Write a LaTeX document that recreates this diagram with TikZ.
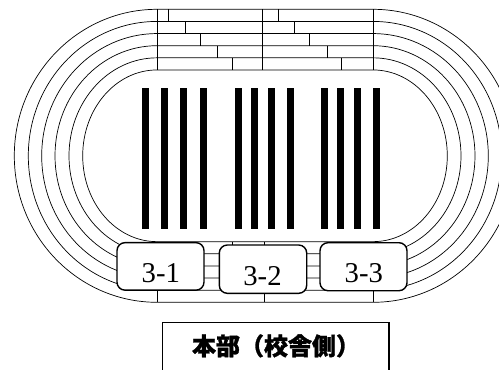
\documentclass[tikz,border=0pt]{standalone}
\usepackage{fontspec}
\newfontfamily\jpfont{Noto Sans CJK JP}[BoldFeatures={FakeBold=1.2}]
\newfontfamily\numfont{Liberation Serif}
\begin{document}
\begin{tikzpicture}[x=1pt,y=-1pt,
  trk/.style={line width=0.7pt},
  lanebox/.style={draw, line width=1.4pt, rounded corners=8pt, fill=white, minimum width=87pt, minimum height=47.5pt, inner sep=0pt},
  lanetext/.style={font={\numfont\fontsize{28.7}{29}\selectfont}, inner sep=0pt, anchor=base},
  hqbox/.style={draw, line width=1.2pt, fill=white, inner sep=0pt},
  hqtext/.style={font={\jpfont\bfseries\fontsize{24}{24}\selectfont}, inner sep=0pt, anchor=base},
  bar/.style={fill=black}]
\useasboundingbox (0,0) rectangle (499,370);
\clip (0,0) rectangle (499,370);
% lanes
\foreach \a/\b in {74.3/85.85, 88/97.98, 102/110.11, 115.3/122.24, 128.7/134.37, 142.7/146.5} {
  \draw[trk] (157,{155.8-\b}) arc[start angle=270, end angle=90, x radius=\a, y radius=\b]
    -- (373,{155.8+\b}) arc[start angle=90, end angle=-90, x radius=\a, y radius=\b] -- cycle;
}
% top straight verticals
\foreach \x in {157,262.3,373} \draw[trk] (\x,9.3) -- (\x,69.95);
% top staggered ticks
\foreach \x/\ya/\yb in {168/9.3/21.43, 185/21.43/33.56, 200/33.56/45.69, 217/45.69/57.82, 232/57.82/69.95,
                        278/9.3/21.43, 294/21.43/33.56, 309/33.56/45.69, 327/45.69/57.82, 341/57.82/69.95}
  \draw[trk] (\x,\ya) -- (\x,\yb);
% bottom straight verticals
\foreach \x in {157,264,373} \draw[trk] (\x,241.65) -- (\x,302.3);
\draw[trk] (232,241.65) -- (232,253.78);
% bars
\foreach \x in {142.3,160.7,180,200,235,251,268.3,286.7,321,336.7,354.3,372.7}
  \fill[bar] (\x,88.3) rectangle ++(6.8,140.7);
% lane boxes
\node[lanebox] (b1) at (160.5,266.4) {};
\node[lanebox, minimum width=87.4pt, minimum height=48.3pt] (b2) at (263,269.15) {};
\node[lanebox, minimum height=48pt] (b3) at (363.5,266.7) {};
\node[lanetext] (t1) at (160.8,282.7) {3-1};
\node[lanetext] (t2) at (262.5,285.7) {3-2};
\node[lanetext] (t3) at (363.8,282.7) {3-3};
% headquarters
\node[hqbox, minimum width=226.7pt, minimum height=60pt, anchor=north] (hq) at (275.65,321.7) {};
\node[hqtext] (hqt) at (276,355) {本部（校舎側）};
\end{tikzpicture}
\end{document}
